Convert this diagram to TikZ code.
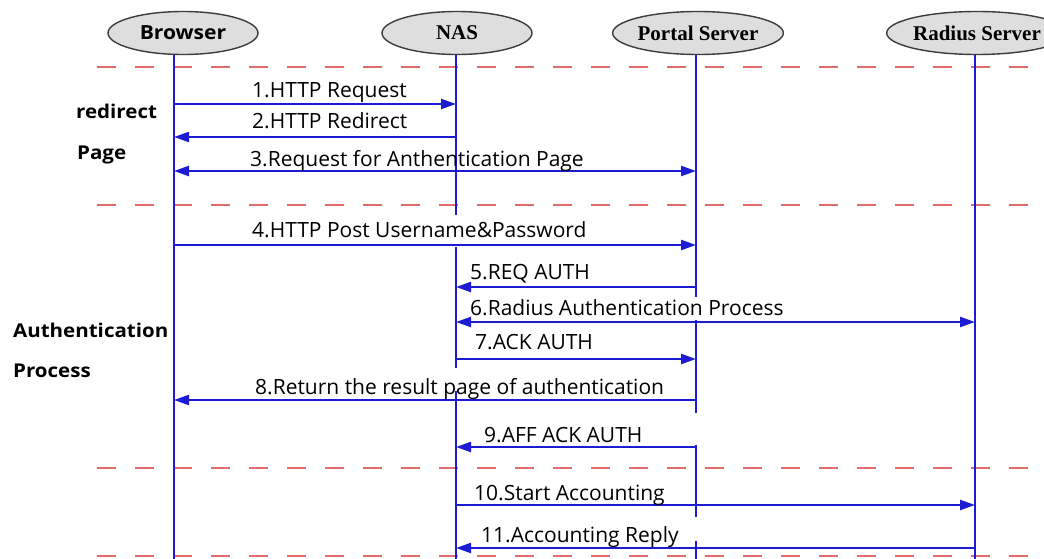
\documentclass[tikz,border=0pt]{standalone}
\usepackage{fontspec}
\setmainfont{Liberation Serif}
\newfontfamily\msgfont{Open Sans}
\newfontfamily\widesans[FakeStretch=1.08]{Open Sans}
\usetikzlibrary{arrows.meta,shapes.geometric}

\definecolor{lineblue}{RGB}{28,28,212}
\definecolor{sepred}{RGB}{226,108,108}
\definecolor{actorfill}{RGB}{222,222,222}
\definecolor{actorline}{RGB}{60,60,60}

\tikzset{
  lifeline/.style={draw=lineblue, line width=2.3pt},
  msgarrow/.style={draw=lineblue, line width=2.3pt, -{Triangle[length=15pt,width=10pt]}},
  twoway/.style={draw=lineblue, line width=2.3pt, {Triangle[length=15pt,width=10pt]}-{Triangle[length=15pt,width=10pt]}},
  separator/.style={draw=sepred, line width=2pt, dash pattern=on 19pt off 19pt},
  actor/.style={ellipse, draw=actorline, fill=actorfill, line width=1.4pt,
    minimum width=150pt, minimum height=43pt, inner sep=0pt,
    font=\bfseries\fontsize{21}{21}\selectfont},
  msglabel/.style={anchor=base west, inner sep=0pt,
    font=\msgfont\fontsize{21}{21}\selectfont},
  phase/.style={anchor=base west, inner sep=0pt,
    font=\widesans\bfseries\fontsize{19}{19}\selectfont}
}

\begin{document}
\begin{tikzpicture}[x=1pt,y=-1pt]
\useasboundingbox (0,0) rectangle (1044,559);

% phase separators
\draw[separator] (97,67) -- (1044,67);
\draw[separator] (97,205) -- (1044,205);
\draw[separator] (97,468) -- (1044,468);
\draw[separator] (97,556) -- (1044,556);

% lifelines, broken where labels sit across them
\coordinate (bt) at (174,55);  \coordinate (bb) at (174,559);
\coordinate (nt) at (456,55);  \coordinate (nb) at (456,559);
\coordinate (pt) at (696,55);  \coordinate (pb) at (696,559);
\coordinate (rt) at (975,55);  \coordinate (rb) at (975,559);

\draw[lifeline] (bt) -- (bb);
\draw[lifeline] (nt) -- (456,215) (456,247) -- (456,368) (456,391) -- (nb);
\draw[lifeline] (pt) -- (696,297) (696,320) -- (696,413)
                (696,445) -- (696,517) (696,541) -- (pb);
\draw[lifeline] (rt) -- (rb);

% message heights
\coordinate (y1) at (0,104);
\coordinate (y2) at (0,137);
\coordinate (y3) at (0,171);
\coordinate (y4) at (0,245);
\coordinate (y5) at (0,287);
\coordinate (y6) at (0,322);
\coordinate (y7) at (0,359);
\coordinate (y8) at (0,400);
\coordinate (y9) at (0,447);
\coordinate (y10) at (0,505);
\coordinate (y11) at (0,548);

% messages
\draw[msgarrow] (bt |- y1) -- (nt |- y1);
\draw[msgarrow] (nt |- y2) -- (bt |- y2);
\draw[twoway]   (bt |- y3) -- (pt |- y3);
\draw[msgarrow] (bt |- y4) -- (pt |- y4);
\draw[msgarrow] (pt |- y5) -- (nt |- y5);
\draw[twoway]   (nt |- y6) -- (rt |- y6);
\draw[msgarrow] (nt |- y7) -- (pt |- y7);
\draw[msgarrow] (pt |- y8) -- (bt |- y8);
\draw[msgarrow] (pt |- y9) -- (nt |- y9);
\draw[msgarrow] (nt |- y10) -- (rt |- y10);
\draw[msgarrow] (rt |- y11) -- (nt |- y11);

% message labels
\node[msglabel] (l1) at (252,98) {1.HTTP Request};
\node[msglabel] (l2) at (252,129) {2.HTTP Redirect};
\node[msglabel] (l3) at (250,166) {3.Request for Anthentication Page};
\node[msglabel] (l4) at (252,237) {4.HTTP Post Username\&Password};
\node[msglabel] (l5) at (470,279) {5.REQ AUTH};
\node[msglabel] (l6) at (470,315) {6.Radius Authentication Process};
\node[msglabel] (l7) at (475,349) {7.ACK AUTH};
\node[msglabel] (l8) at (255,394) {8.Return the result page of authentication};
\node[msglabel] (l9) at (484,442) {9.AFF ACK AUTH};
\node[msglabel] (l10) at (474,500) {10.Start Accounting};
\node[msglabel] (l11) at (481,542) {11.Accounting Reply};

% phase names
\node[phase] (ph1) at (76,119) {redirect};
\node[phase] (ph2) at (77,160) {Page};
\node[phase] (ph3) at (13,337) {Authentication};
\node[phase] (ph4) at (13,377) {Process};

% participants
\node[actor, font=\widesans\bfseries\fontsize{19.5}{19.5}\selectfont] (B) at (183,33) {Browser};
\node[actor] (N) at (457,33) {NAS};
\node[actor] (P) at (698,33) {Portal Server};
\node[actor] (R) at (977,33) {Radius Server};
\end{tikzpicture}
\end{document}
